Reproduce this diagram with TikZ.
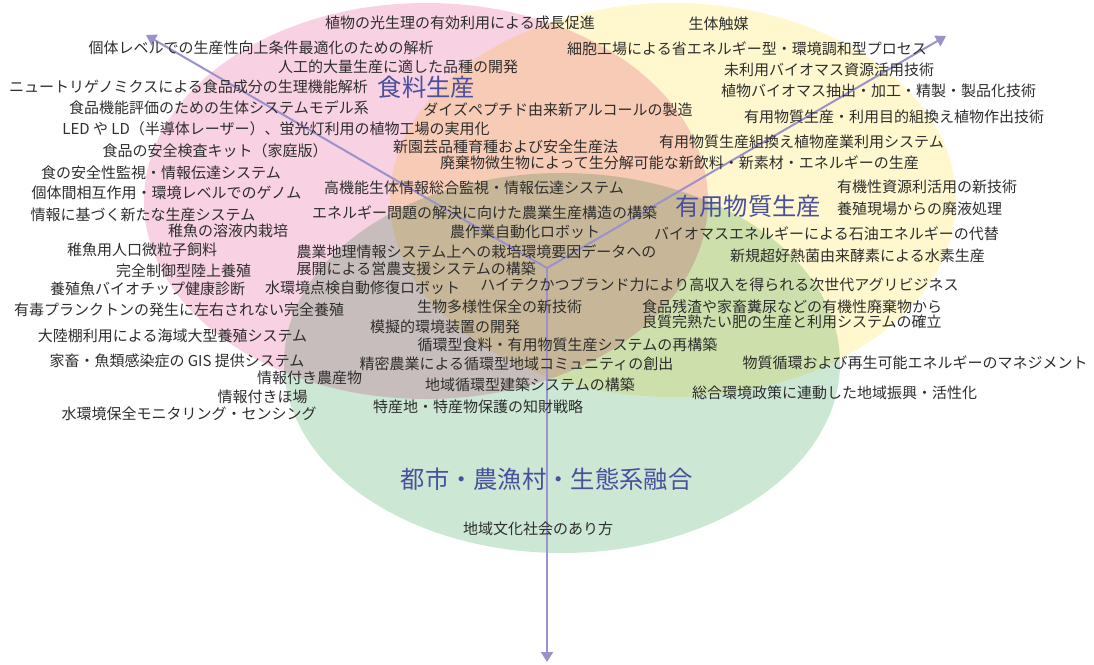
\documentclass[tikz,border=0pt]{standalone}
\usepackage{fontspec}
\setmainfont{Noto Sans CJK JP}
\usetikzlibrary{positioning, arrows.meta}
\definecolor{foodpink}{HTML}{F8D1E2}
\definecolor{matyellow}{HTML}{FFF8CE}
\definecolor{ecogreen}{HTML}{CDE7D5}
\definecolor{axisviolet}{HTML}{9B91CD}
\definecolor{titleblue}{HTML}{4A509C}
\definecolor{txtgray}{HTML}{2E2E2E}
\tikzset{
  itemtext/.style={ % one research theme
    text=txtgray,
    inner sep=0pt,
    font=\fontsize{15}{16}\selectfont,
  },
  areatitle/.style={ % name of an area
    text=titleblue,
    inner sep=0pt,
    font=\fontsize{24.3}{26}\selectfont,
  },
  axisarrow/.style={ % the three directions
    -{Triangle[width=12pt,length=10pt]},
    line width=2pt,
    draw=axisviolet,
  },
}

\begin{document}
\begin{tikzpicture}[x=1pt, y=-1pt]
		\useasboundingbox (0,0) rectangle (1094,664);
		% overlapping areas
		\begin{scope}[blend group=multiply]
			\fill[foodpink] (426,201) ellipse [x radius=282, y radius=198];
			\fill[matyellow] (673,200) ellipse [x radius=283, y radius=197];
			\fill[ecogreen] (562,363) ellipse [x radius=278, y radius=190];
		\end{scope}
		% directions
		\coordinate (hub) at (547,268);
		\coordinate (foodend) at (146,35);
		\coordinate (matend) at (946,36);
		\coordinate (ecoend) at (547,662);
		\draw[axisarrow] (hub) -- (foodend);
		\draw[axisarrow] (hub) -- (matend);
		\draw[axisarrow] (hub) -- (ecoend);
		% area titles
		\node[areatitle] (foodttl) at (426.5,87) {食料生産};
		\node[areatitle] (matttl) at (748,206) {有用物質生産};
		\node[areatitle] (ecottl) at (546.5,479) {都市・農漁村・生態系融合};
		% food production
		\node[itemtext] (f1) at (460,23) {植物の光生理の有効利用による成長促進};
		\node[itemtext] (f2) at (261,48) {個体レベルでの生産性向上条件最適化のための解析};
		\node[itemtext] (f3) at (398,67) {人工的大量生産に適した品種の開発};
		\node[itemtext] (f4) at (188.5,87) {ニュートリゲノミクスによる食品成分の生理機能解析};
		\node[itemtext] (f5) at (219,108) {食品機能評価のための生体システムモデル系};
		\node[itemtext] (f6) at (276,129) {LED や LD（半導体レーザー）、蛍光灯利用の植物工場の実用化};
		\node[itemtext] (f7) at (215,151) {食品の安全検査キット（家庭版）};
		\node[itemtext] (f8) at (161,173) {食の安全性監視・情報伝達システム};
		\node[itemtext] (f9) at (166.5,193) {個体間相互作用・環境レベルでのゲノム};
		\node[itemtext] (f10) at (143,215) {情報に基づく新たな生産システム};
		\node[itemtext] (f11) at (228,231) {稚魚の溶液内栽培};
		\node[itemtext] (f12) at (142,250) {稚魚用人口微粒子飼料};
		\node[itemtext] (f13) at (183.5,271) {完全制御型陸上養殖};
		\node[itemtext] (f14) at (147.5,289) {養殖魚バイオチップ健康診断};
		\node[itemtext] (f15) at (179,310) {有毒プランクトンの発生に左右されない完全養殖};
		\node[itemtext] (f16) at (172.5,336) {大陸棚利用による海域大型養殖システム};
		% food and materials
		\node[itemtext] (fm1) at (558,110) {ダイズペプチド由来新アルコールの製造};
		\node[itemtext] (fm2) at (505.5,147) {新園芸品種育種および安全生産法};
		\node[itemtext] (fm3) at (679.5,163) {廃棄物微生物によって生分解可能な新飲料・新素材・エネルギーの生産};
		% all three
		\node[itemtext] (c1) at (474,188) {高機能生体情報総合監視・情報伝達システム};
		\node[itemtext] (c2) at (484.5,213) {エネルギー問題の解決に向けた農業生産構造の構築};
		\node[itemtext] (c3) at (525,232) {農作業自動化ロボット};
		\node[itemtext] (c4) at (476.5,252) {農業地理情報システム上への栽培環境要因データへの};
		\node[itemtext, below=2pt of c4.south west, anchor=north west] (c5) {展開による営農支援システムの構築};
		\node[itemtext] (c6) at (719.5,285) {ハイテクかつブランド力により高収入を得られる次世代アグリビジネス};
		\node[itemtext] (c7) at (499.5,307) {生物多様性保全の新技術};
		\node[itemtext] (c8) at (445,327) {模擬的環境装置の開発};
		\node[itemtext] (c9) at (567.5,345) {循環型食料・有用物質生産システムの再構築};
		\node[itemtext] (c10) at (516.5,364) {精密農業による循環型地域コミュニティの創出};
		% food and environment
		\node[itemtext] (fe1) at (362.5,288) {水環境点検自動修復ロボット};
		\node[itemtext] (fe2) at (177,361) {家畜・魚類感染症の GIS 提供システム};
		\node[itemtext] (fe3) at (309.5,378) {情報付き農産物};
		\node[itemtext] (fe4) at (262.5,397) {情報付きほ場};
		\node[itemtext] (fe5) at (189,414) {水環境保全モニタリング・センシング};
		% useful materials
		\node[itemtext] (m1) at (718.5,24) {生体触媒};
		\node[itemtext] (m2) at (747,49) {細胞工場による省エネルギー型・環境調和型プロセス};
		\node[itemtext] (m3) at (829,70) {未利用バイオマス資源活用技術};
		\node[itemtext] (m4) at (878.5,91) {植物バイオマス抽出・加工・精製・製品化技術};
		\node[itemtext] (m5) at (894,117) {有用物質生産・利用目的組換え植物作出技術};
		\node[itemtext] (m6) at (801.5,142) {有用物質生産組換え植物産業利用システム};
		\node[itemtext] (m7) at (927,187) {有機性資源利活用の新技術};
		\node[itemtext] (m8) at (919.5,209) {養殖現場からの廃液処理};
		\node[itemtext] (m9) at (826.5,234) {バイオマスエネルギーによる石油エネルギーの代替};
		\node[itemtext] (m10) at (857.5,256) {新規超好熱菌由来酵素による水素生産};
		\node[itemtext] (m11) at (792,307) {食品残渣や家畜糞尿などの有機性廃棄物から};
		\node[itemtext, below=0.2pt of m11.south west, anchor=north west] (m12) {良質完熟たい肥の生産と利用システムの確立};
		% urban, rural and ecosystem
		\node[itemtext] (e1) at (915,363) {物質循環および再生可能エネルギーのマネジメント};
		\node[itemtext] (e2) at (530,385) {地域循環型建築システムの構築};
		\node[itemtext] (e3) at (834.5,393) {総合環境政策に連動した地域振興・活性化};
		\node[itemtext] (e4) at (478,407) {特産地・特産物保護の知財戦略};
		\node[itemtext] (e5) at (538,529) {地域文化社会のあり方};
	\end{tikzpicture}
\end{document}
